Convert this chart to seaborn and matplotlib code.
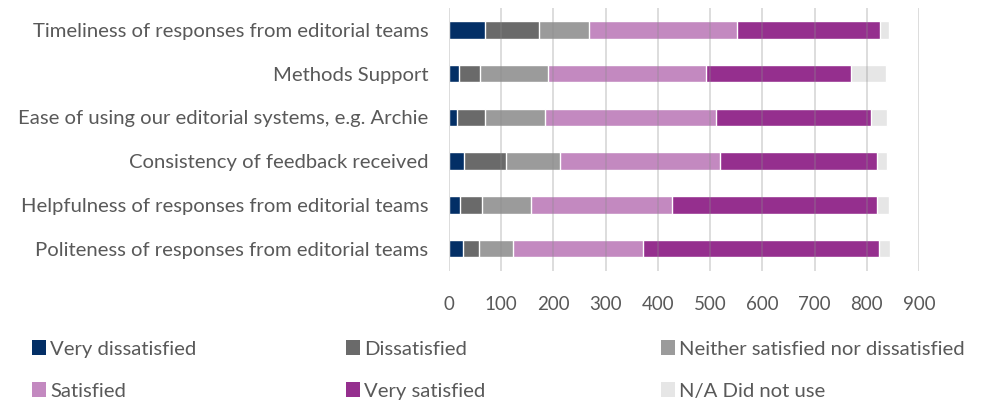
import numpy as np
import pandas as pd
import matplotlib
matplotlib.use("Agg")
import matplotlib.pyplot as plt
import seaborn as sns
from matplotlib.patches import Patch

# Survey questions (top to bottom) and response categories
questions = [
    "Timeliness of responses from editorial teams",
    "Methods Support",
    "Ease of using our editorial systems, e.g. Archie",
    "Consistency of feedback received",
    "Helpfulness of responses from editorial teams",
    "Politeness of responses from editorial teams",
]
responses = [
    "Very dissatisfied",
    "Dissatisfied",
    "Neither satisfied nor dissatisfied",
    "Satisfied",
    "Very satisfied",
    "N/A Did not use",
]

# Response counts per question
very_dissatisfied = [68, 20, 15, 29, 22, 26]
dissatisfied = [105, 40, 53, 80, 42, 32]
neither = [96, 130, 116, 104, 93, 64]
satisfied = [282, 302, 328, 305, 270, 249]
very_satisfied = [275, 277, 296, 301, 393, 453]
not_used = [17, 68, 30, 19, 23, 20]

x_ticks = [0, 100, 200, 300, 400, 500, 600, 700, 800, 900]

colors = ["#032f66", "#6a6a6a", "#9b9b9b", "#c389c0", "#952f8e", "#e6e6e6"]
text_color = "#595959"

sns.set_style("white")
plt.rcParams["font.family"] = ["Lato", "DejaVu Sans"]

df = pd.DataFrame({
    "Question": questions,
    responses[0]: very_dissatisfied,
    responses[1]: dissatisfied,
    responses[2]: neither,
    responses[3]: satisfied,
    responses[4]: very_satisfied,
    responses[5]: not_used,
})
# cumulative totals so that overlaid bars form stacked segments
cum = df[responses].cumsum(axis=1)
for r in responses:
    df["cum_" + r] = cum[r]

fig = plt.figure(figsize=(9.84, 4.03), dpi=100)
ax = fig.add_axes([449 / 984, 1 - 270.5 / 403, 470 / 984, 262.5 / 403])

for r, c in zip(reversed(responses), reversed(colors)):
    sns.barplot(data=df, y="Question", x="cum_" + r, color=c, saturation=1,
                width=0.4, errorbar=None, orient="h", ax=ax)

ax.set_xlim(0, 900)
ax.set_xticks(x_ticks)
ax.set_xlabel("")
ax.set_ylabel("")
for s in ax.spines.values():
    s.set_visible(False)
ax.set_axisbelow(False)
ax.xaxis.grid(True, color="#8c8c8c", alpha=0.3, lw=1.4)
ax.yaxis.grid(False)
ax.tick_params(axis="x", length=0, labelsize=13.5, colors=text_color, pad=18)
ax.tick_params(axis="y", length=0, labelsize=14.6, colors=text_color, pad=15)

# legend: two rows of three entries
pos_x = [32, 346, 661]
pos_y = [349, 391]
for i, (r, c) in enumerate(zip(responses, colors)):
    row, col = divmod(i, 3)
    fig.legend(handles=[Patch(facecolor=c, edgecolor="none", label=r)],
               loc="center left",
               bbox_to_anchor=(pos_x[col] / 984, 1 - pos_y[row] / 403),
               frameon=False, borderpad=0, borderaxespad=0,
               handlelength=0.7, handleheight=0.7, handletextpad=0.2,
               fontsize=14.6, labelcolor=text_color)

fig.savefig("out.png", dpi=100)
